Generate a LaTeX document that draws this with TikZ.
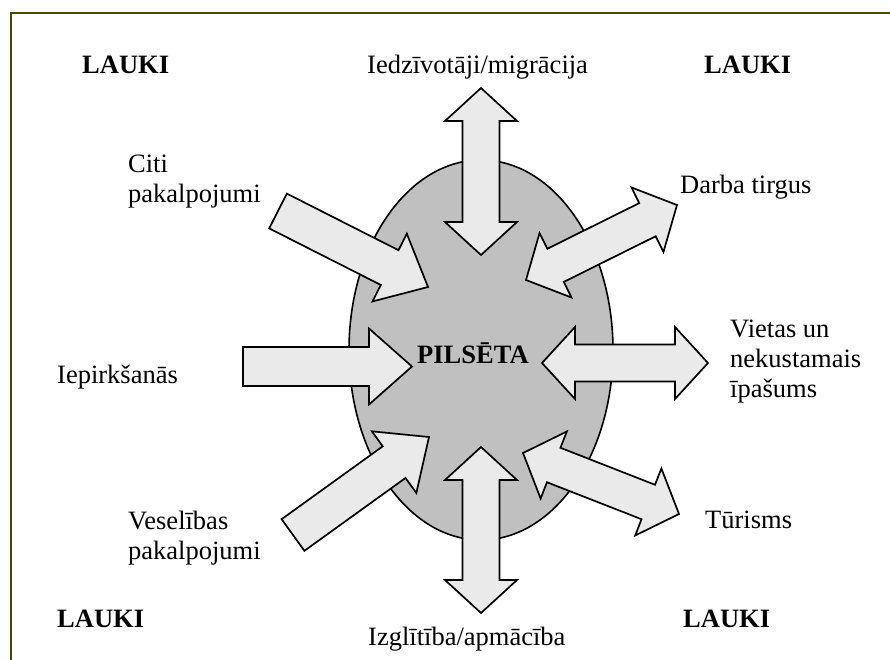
\documentclass[tikz,border=0pt]{standalone}
\usepackage{fontspec}
\setmainfont{Liberation Serif}
\usetikzlibrary{calc,shapes.geometric}
\definecolor{frameol}{RGB}{72,72,8}
\definecolor{cityfill}{RGB}{192,192,192}
\definecolor{arrfill}{RGB}{234,234,234}
\newcommand{\mystack}[2]{\vtop{\baselineskip=30pt\hbox{#1}\hbox{#2}}}
\newcommand{\mythree}[3]{\vtop{\baselineskip=30pt\hbox{#1}\hbox{#2}\hbox{#3}}}
\tikzset{
  frameline/.style={draw=frameol, line width=2.2pt},
  cityshape/.style={ellipse, draw=black, line width=1.6pt, fill=cityfill, minimum width=264pt, minimum height=380pt, inner sep=0pt},
  blockarrow/.style={draw=black, line width=1.7pt, fill=arrfill, line join=miter},
  lbl/.style={inner sep=0pt, anchor=base west, font=\fontsize{26.5}{30}\selectfont},
  blbl/.style={lbl, font=\fontsize{26.5}{30}\selectfont\bfseries},
}
\newcommand{\onearrow}[2]{%
  \coordinate (#1h) at ($(#2)!43pt!(#1)$);
  \draw[blockarrow] ($(#1)!19.5pt!90:(#2)$) -- ($(#1h)!19.5pt!-90:(#1)$) -- ($(#1h)!38pt!-90:(#1)$) -- (#2) -- ($(#1h)!38pt!90:(#1)$) -- ($(#1h)!19.5pt!90:(#1)$) -- ($(#1)!19.5pt!-90:(#2)$) -- cycle;}
\newcommand{\twoarrow}[2]{%
  \coordinate (#1h) at ($(#1)!33pt!(#2)$);
  \coordinate (#2h) at ($(#2)!33pt!(#1)$);
  \draw[blockarrow] (#1) -- ($(#1h)!36pt!90:(#2)$) -- ($(#1h)!18.5pt!90:(#2)$) -- ($(#2h)!18.5pt!-90:(#1)$) -- ($(#2h)!36pt!-90:(#1)$) -- (#2) -- ($(#2h)!36pt!90:(#1)$) -- ($(#2h)!18.5pt!90:(#1)$) -- ($(#1h)!18.5pt!-90:(#2)$) -- ($(#1h)!36pt!-90:(#2)$) -- cycle;}
\begin{document}
\begin{tikzpicture}[x=1pt,y=-1pt]
\useasboundingbox (0,0) rectangle (890,659);
\clip (0,0) rectangle (890,659);
\fill[white] (0,0) rectangle (890,659);
\draw[frameline] (11,13) rectangle (910,680);
\node[cityshape] (city) at (481,350) {};
% arrow end points
\coordinate (topA) at (481,255);
\coordinate (topB) at (481,88);
\coordinate (botA) at (481,447);
\coordinate (botB) at (481,613);
\coordinate (rgtA) at (542,363);
\coordinate (rgtB) at (708,363);
\coordinate (urA) at (526,280);
\coordinate (urB) at (677,205);
\coordinate (lrA) at (523,453);
\coordinate (lrB) at (679,514);
\coordinate (ciA) at (278,211);
\coordinate (ciB) at (428,287);
\coordinate (ipA) at (243,366.5);
\coordinate (ipB) at (412,366.5);
\coordinate (veA) at (293,535);
\coordinate (veB) at (429,437);
\twoarrow{topA}{topB}
\twoarrow{botA}{botB}
\twoarrow{rgtA}{rgtB}
\twoarrow{urA}{urB}
\twoarrow{lrA}{lrB}
\onearrow{ciA}{ciB}
\onearrow{ipA}{ipB}
\onearrow{veA}{veB}
% labels
\node[blbl] (city-t) at (417,363) {PILSĒTA};
\node[blbl] (lk1) at (82,73) {LAUKI};
\node[blbl] (lk2) at (704,73) {LAUKI};
\node[blbl] (lk3) at (57,627) {LAUKI};
\node[blbl] (lk4) at (683,627) {LAUKI};
\node[lbl] (t-mig) at (367,73) {Iedzīvotāji/migrācija};
\node[lbl] (t-citi) at (128,172) {\mystack{Citi}{pakalpojumi}};
\node[lbl] (t-iep) at (57,383) {Iepirkšanās};
\node[lbl] (t-ves) at (128,529) {\mystack{Veselības}{pakalpojumi}};
\node[lbl] (t-darb) at (680,193) {Darba tirgus};
\node[lbl] (t-viet) at (730,337) {\mythree{Vietas un}{nekustamais}{īpašums}};
\node[lbl] (t-tur) at (705,528) {Tūrisms};
\node[lbl] (t-izg) at (368,645) {Izglītība/apmācība};
\end{tikzpicture}
\end{document}
